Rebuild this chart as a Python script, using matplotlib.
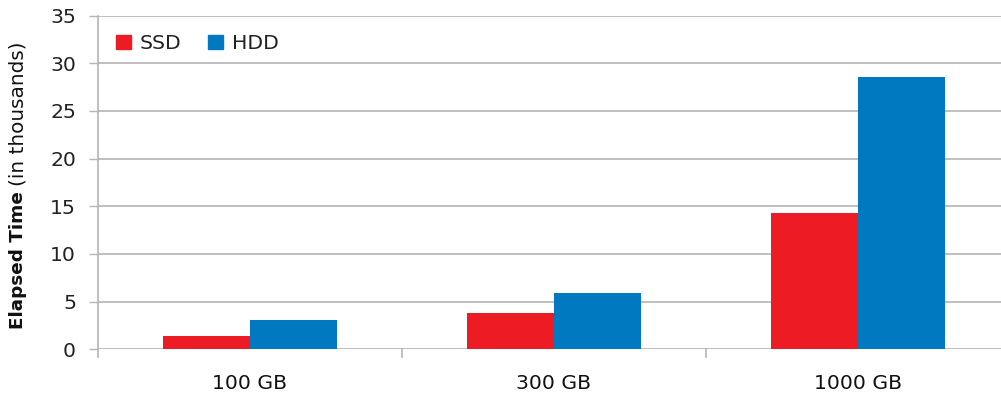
import matplotlib
matplotlib.use("Agg")
import matplotlib.pyplot as plt
import numpy as np
from matplotlib.patches import Patch

categories = ["100 GB", "300 GB", "1000 GB"]
ssd = [1.35, 3.8, 14.3]
hdd = [3.1, 5.9, 28.6]
series_names = ["SSD", "HDD"]
colors = ["#ED1C24", "#0079C1"]
yticks = [0, 5, 10, 15, 20, 25, 30, 35]

plt.rcParams['font.family'] = ['DejaVu Sans']
W, H = 1001, 396
fig = plt.figure(figsize=(W/100, H/100), dpi=100)
ax = fig.add_axes([97.5/W, 1-349.3/H, (1010-97.5)/W, (349.3-15.6)/H])

x = np.arange(len(categories))
bw = 0.286
ax.bar(x - bw/2, ssd, bw, color=colors[0], zorder=3)
ax.bar(x + bw/2, hdd, bw, color=colors[1], zorder=3)

fs = 14.7
ax.set_xlim(-0.5, 2.5)
ax.set_ylim(0, 35)
ax.set_yticks(yticks)
ax.yaxis.grid(True, color="#b4b4b4", linewidth=1.2, zorder=0)
ax.tick_params(axis='y', length=6.5, width=1, color="#b4b4b4", labelsize=fs, pad=9, labelcolor="#222222")
ax.set_xticks([-0.5, 0.5, 1.5, 2.5])
ax.set_xticklabels([])
ax.set_xticks(x, minor=True)
ax.set_xticklabels(categories, minor=True)
ax.tick_params(axis='x', which='major', length=0)
ax.tick_params(axis='x', which='minor', length=0, labelsize=fs, pad=18, labelcolor="#111111")
for s in ['top', 'right', 'bottom']:
    ax.spines[s].set_visible(False)
ax.spines['left'].set_color("#b4b4b4")
ax.spines['left'].set_linewidth(1.2)
ax.spines['left'].set_bounds(-0.8, 35)
ax.spines['left'].set_zorder(1)
# category boundary tick marks below axis
for b in [0.5, 1.5]:
    ax.plot([b, b], [0, -0.85], color="#b4b4b4", lw=1.2, clip_on=False, zorder=1)
ax.set_axisbelow(True)

handles = [Patch(color=c) for c in colors]
leg = ax.legend(handles, series_names, loc='upper left', bbox_to_anchor=(0.0, 1.0),
                ncol=2, frameon=False, fontsize=fs, handlelength=0.72, handleheight=0.72,
                handletextpad=0.45, columnspacing=1.3, borderaxespad=0.5)
for t in leg.get_texts():
    t.set_color("#222222")

# y label: bold part + normal part
t1 = fig.text(18/W, 1-329/H, "Elapsed Time", rotation=90, fontsize=13.2, fontweight='bold',
              ha='center', va='bottom', color="#111111")
fig.canvas.draw()
bb = t1.get_window_extent()
t2 = fig.text(18/W, (bb.y1 + 5)/H, "(in thousands)", rotation=90, fontsize=14.4,
              ha='center', va='bottom', color="#111111")

fig.savefig("out.png", dpi=100)
